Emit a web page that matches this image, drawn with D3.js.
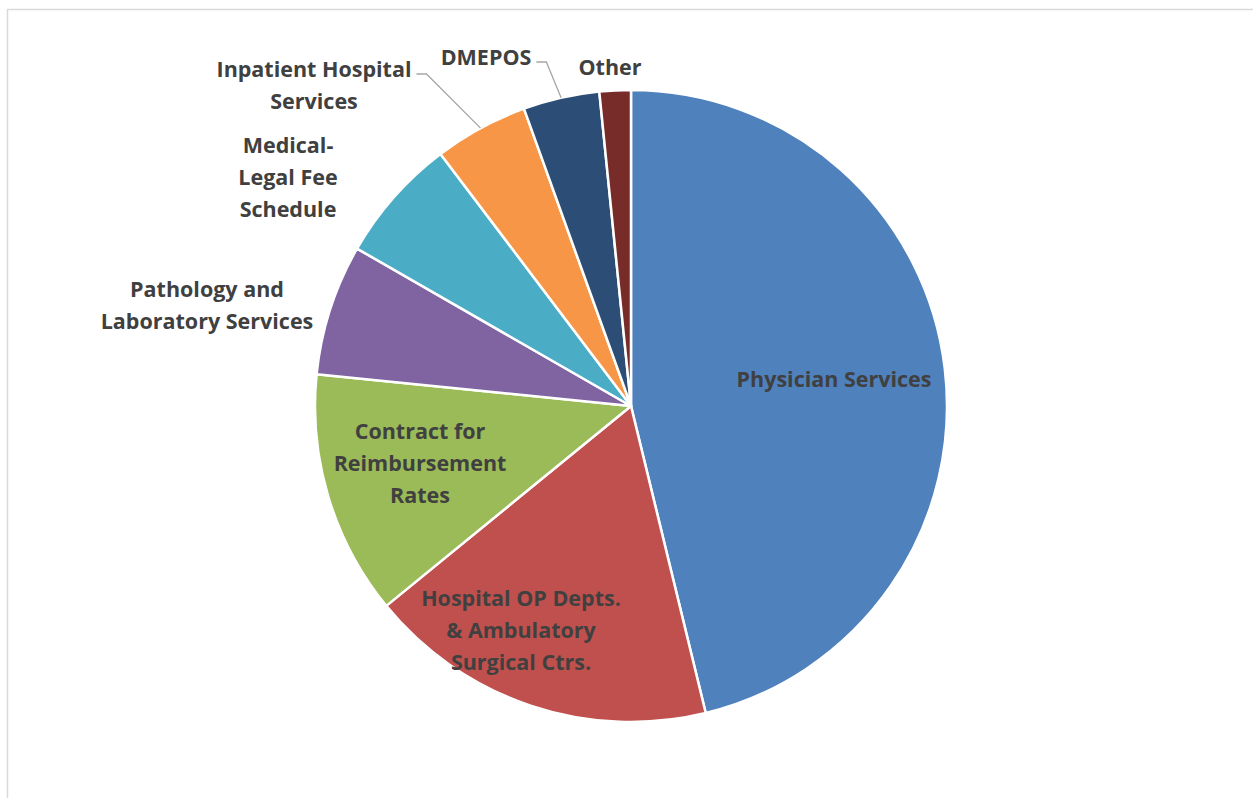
<!DOCTYPE html>
<html>
<head>
<meta charset="utf-8">
<script src="https://cdn.jsdelivr.net/npm/d3@7"></script>
<style>
  body { margin: 0; background: #fff; }
  text { font-family: 'Open Sans', Lato, sans-serif; font-weight: bold; fill: #404040; }
</style>
</head>
<body>
<div id="chart"></div>
<script>
const categories = [
  'Physician Services',
  'Hospital OP Depts. & Ambulatory Surgical Ctrs.',
  'Contract for Reimbursement Rates',
  'Pathology and Laboratory Services',
  'Medical-Legal Fee Schedule',
  'Inpatient Hospital Services',
  'DMEPOS',
  'Other'
]
const values = [46.2, 17.9, 12.5, 6.7, 6.4, 4.8, 3.9, 1.6]
const labelLines = [
  ['Physician Services'],
  ['Hospital OP Depts.', '& Ambulatory', 'Surgical Ctrs.'],
  ['Contract for', 'Reimbursement', 'Rates'],
  ['Pathology and', 'Laboratory Services'],
  ['Medical-', 'Legal Fee', 'Schedule'],
  ['Inpatient Hospital', 'Services'],
  ['DMEPOS'],
  ['Other']
]
const colors = ['#4f81bd', '#c0504d', '#9bbb59', '#8064a2', '#4bacc6', '#f79646', '#2c4d75', '#772c2a']

// label placement, offsets from pie centre (layout only)
const labelPos = [
  [203, -27], [-110, 224], [-211, 57], [-424, -101],
  [-343, -229], [-317, -321], [-145, -349], [-21, -339]
]
const leaders = { 5: true, 6: true }

const width = 1253
const height = 798
const cx = 631
const cy = 406
const radius = 316
const lineH = 32

const svg = d3
  .select('#chart')
  .append('svg')
  .attr('width', width)
  .attr('height', height)

svg
  .append('rect')
  .attr('x', 7.5)
  .attr('y', 9.5)
  .attr('width', width + 10)
  .attr('height', height + 10)
  .attr('fill', 'none')
  .attr('stroke', '#d9d9d9')
  .attr('stroke-width', 1.5)

const g = svg.append('g').attr('transform', `translate(${cx},${cy})`)

const pie = d3.pie().sort(null).value(d => d)
const arcs = pie(values)

const arc = d3.arc().innerRadius(0).outerRadius(radius)
const edgeArc = d3.arc().innerRadius(radius).outerRadius(radius)

g.selectAll('.slice')
  .data(arcs)
  .enter()
  .append('path')
  .attr('class', 'slice')
  .attr('d', arc)
  .attr('fill', (d, i) => colors[i])
  .attr('stroke', '#fff')
  .attr('stroke-width', 2.5)
  .attr('stroke-linejoin', 'round')

const labels = g
  .selectAll('.label')
  .data(arcs)
  .enter()
  .append('text')
  .attr('class', 'label')
  .attr('text-anchor', 'middle')
  .style('font-size', '21.5px')
  .attr('transform', (d, i) => `translate(${labelPos[i][0]},${labelPos[i][1]})`)

labels.each(function(d, i) {
  const lines = labelLines[i]
  const t = d3.select(this)
  lines.forEach((line, j) => {
    t.append('tspan')
      .attr('x', 0)
      .attr('y', (j - (lines.length - 1) / 2) * lineH)
      .attr('dy', '0.35em')
      .text(line)
  })
})

// leader lines for the small slices, drawn from the first line's right end
labels.each(function(d, i) {
  if (!leaders[i]) return
  const first = d3.select(this).select('tspan').node().getComputedTextLength()
  const lines = labelLines[i]
  const lx = labelPos[i][0] + first / 2 + 5
  const ly = labelPos[i][1] - ((lines.length - 1) / 2) * lineH + 5
  const end = edgeArc.centroid(d)
  g.append('polyline')
    .attr('points', [[lx, ly], [lx + 10, ly], end].map(p => p.join(',')).join(' '))
    .attr('fill', 'none')
    .attr('stroke', '#a6a6a6')
    .attr('stroke-width', 1.3)
})
</script>
</body>
</html>
